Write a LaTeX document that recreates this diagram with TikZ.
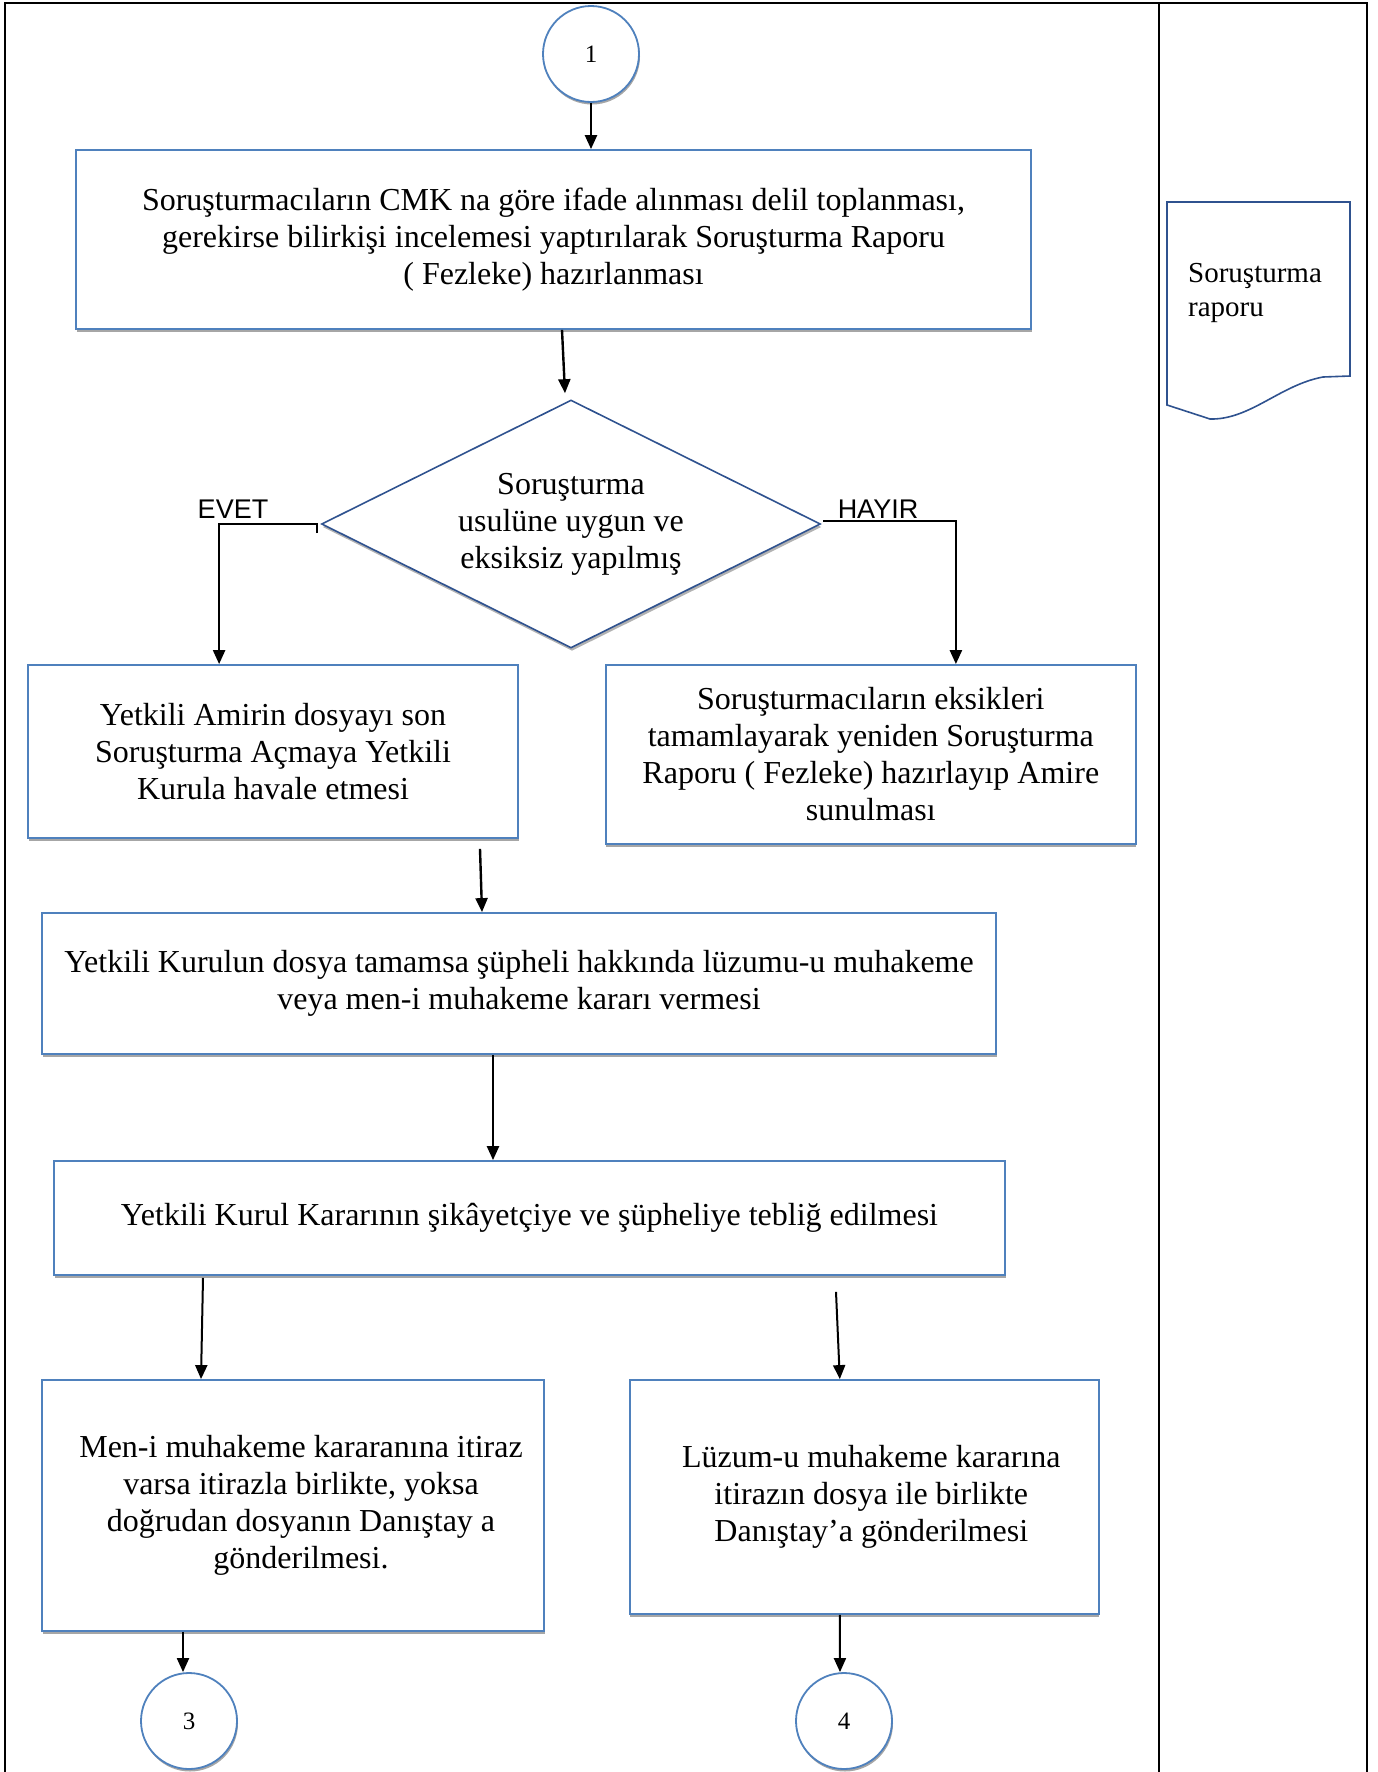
\documentclass[tikz,border=0pt]{standalone}
\usepackage{fontspec}
\setmainfont{Liberation Serif}
\newfontfamily\labelfont{Liberation Sans}
\usetikzlibrary{shapes.geometric}
\usetikzlibrary{shadows}
\usetikzlibrary{arrows.meta}
\usetikzlibrary{positioning}
\definecolor{boxblue}{RGB}{79,129,189}
\definecolor{darkblue}{RGB}{47,82,143}
\tikzset{main box/.style={rectangle,draw=boxblue,line width=1.8pt,fill=white,align=center,inner sep=0pt,font=\fontsize{32}{37}\selectfont,drop shadow={shadow xshift=0.5pt,shadow yshift=-3pt,fill=gray!70,opacity=1}}}
\tikzset{main circle/.style={circle,draw=boxblue,line width=1.8pt,fill=white,minimum size=96pt,inner sep=0pt,font=\fontsize{25}{28}\selectfont,drop shadow={shadow xshift=1pt,shadow yshift=-2.5pt,fill=gray!70,opacity=1}}}
\tikzset{main diamond/.style={diamond,aspect=2,draw=darkblue,line width=1.6pt,fill=white,align=center,inner sep=0pt,font=\fontsize{32}{37}\selectfont,drop shadow={shadow xshift=1pt,shadow yshift=-3pt,fill=gray!60,opacity=1}}}
\tikzset{flow/.style={-{Triangle[length=14pt,width=12pt]},line width=2.4pt}}
\tikzset{answer/.style={font=\labelfont\fontsize{27}{30}\selectfont,inner sep=0pt}}

\begin{document}
\begin{tikzpicture}[x=1pt,y=-1pt]
    \useasboundingbox (0,0) rectangle (1378,1772);
    % frame
    \draw[line width=2.5pt] (5,1772) |- (1367,3) -- (1367,1772);
    \draw[line width=2.5pt] (1159,3) -- (1159,1772);

    \node[main circle] (c_{1}) at (591,54) {1};
    \node[main box,minimum width=955pt,minimum height=179pt] (b_{1}) at (553.5,239.5) {Soruşturmacıların CMK na göre ifade alınması delil toplanması,\\ gerekirse bilirkişi incelemesi yaptırılarak Soruşturma Raporu\\ ( Fezleke) hazırlanması};
    \node[main diamond,minimum width=499pt,minimum height=248pt] (d_{1}) at (571,524) {Soruşturma\\ usulüne uygun ve\\ eksiksiz yapılmış};
    \node[main box,minimum width=490pt,minimum height=173pt] (b_{2}) at (273,751.5) {Yetkili Amirin dosyayı son\\ Soruşturma Açmaya Yetkili\\ Kurula havale etmesi};
    \node[main box,minimum width=530pt,minimum height=179pt] (b_{3}) [right = 86pt of b_{2}.north east,anchor=north west] {Soruşturmacıların eksikleri\\ tamamlayarak yeniden Soruşturma\\ Raporu ( Fezleke) hazırlayıp Amire\\ sunulması};
    \node[main box,minimum width=954pt,minimum height=141pt] (b_{4}) at (519,983.5) {Yetkili Kurulun dosya tamamsa şüpheli hakkında lüzumu-u muhakeme\\ veya men-i muhakeme kararı vermesi};
    \node[main box,minimum width=951pt,minimum height=114pt] (b_{5}) at (529.5,1218) {Yetkili Kurul Kararının şikâyetçiye ve şüpheliye tebliğ edilmesi};
    \node[main box,minimum width=502pt,minimum height=251pt] (b_{6}) at (293,1505.5) {\hspace*{16pt}Men-i muhakeme kararanına itiraz\\ \hspace*{16pt}varsa itirazla birlikte, yoksa\\ \hspace*{16pt}doğrudan dosyanın Danıştay a\\ \hspace*{16pt}gönderilmesi.};
    \node[main box,minimum width=469pt,minimum height=234pt] (b_{7}) [right = 84pt of b_{6}.north east,anchor=north west] {\hspace*{14pt}Lüzum-u muhakeme kararına\\ \hspace*{14pt}itirazın dosya ile birlikte\\ \hspace*{14pt}Danıştay’a gönderilmesi};
    \node[main circle] (c_{3}) at (189,1721) {3};
    \node[main circle] (c_{4}) at (844,1721) {4};

    % document symbol
    \draw[draw=darkblue,line width=1.6pt,fill=white] (1167,202) -- (1350,202) -- (1350,376) -- (1323,377)
        .. controls (1280,385) and (1250,420) .. (1210,419) -- (1167,405) -- cycle;
    \node[font=\fontsize{29}{34}\selectfont,align=left,inner sep=0pt,anchor=base west] (r_{1}) at (1188,316) {Soruşturma\\ raporu};

    % answers
    \node[answer,anchor=base] (evet) at (233,518) {EVET};
    \node[answer,anchor=base] (hayir) at (878,518) {HAYIR};

    \draw[flow] (c_{1}.south) -- (c_{1} |- b_{1}.north);
    \draw[flow] ([xshift=8.5pt]b_{1}.south) -- ([yshift=6pt,xshift=-6pt]d_{1}.north);
    \draw[flow] ([xshift=-4pt,yshift=-9pt]d_{1}.west) -- ([xshift=-4pt]d_{1}.west) -| ([xshift=192pt]b_{2}.north west);
    \draw[flow] ([xshift=2pt,yshift=3pt]d_{1}.east) -| ([xshift=351pt]b_{3}.north west);
    \draw[flow] ([xshift=207pt,yshift=-10pt]b_{2}.south) -- ([xshift=-37pt]b_{4}.north);
    \draw[flow] ([xshift=-26pt]b_{4}.south) -- ([xshift=-36.5pt]b_{5}.north);
    \draw[flow,line width=2pt] ([xshift=-326.5pt,yshift=-2pt]b_{5}.south) -- ([xshift=-92pt]b_{6}.north);
    \draw[flow,line width=2pt] ([xshift=306.5pt,yshift=-16pt]b_{5}.south) -- ([xshift=-24.5pt]b_{7}.north);
    \draw[flow,line width=2pt] ([xshift=-110pt]b_{6}.south) -- ([xshift=-6pt]c_{3}.north);
    \draw[flow,line width=2pt] ([xshift=-24.5pt]b_{7}.south) -- ([xshift=-4pt]c_{4}.north);
\end{tikzpicture}
\end{document}
